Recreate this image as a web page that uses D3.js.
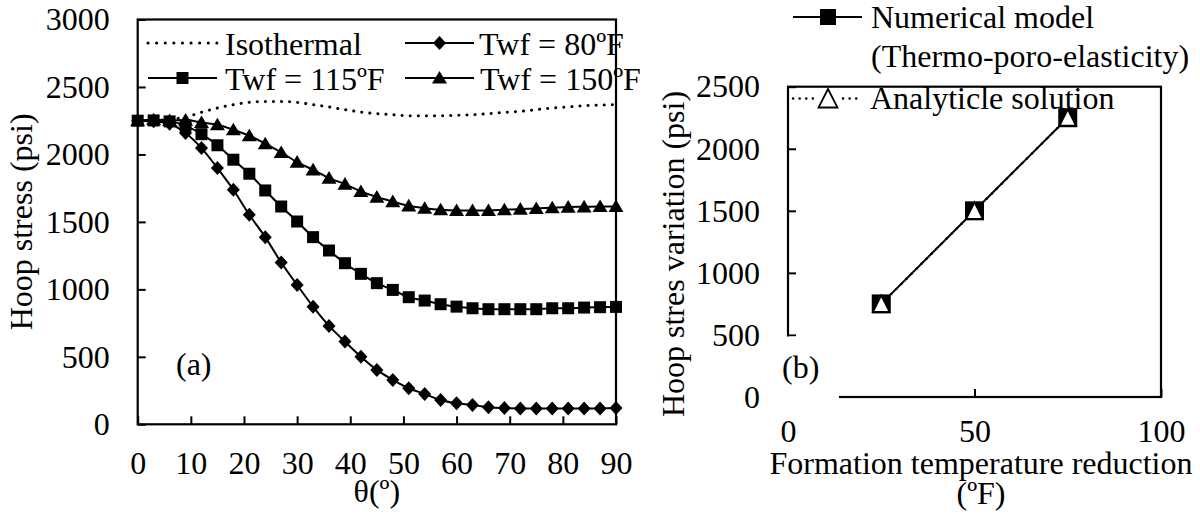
<!DOCTYPE html>
<html><head><meta charset="utf-8">
<script src="https://cdn.jsdelivr.net/npm/d3@7"></script>
<style>
body{margin:0;background:#fff;}
svg text{font-family:"Liberation Serif","Times New Roman",serif !important;font-size:32px;fill:#000;}
</style></head><body>
<svg id="chart" width="1200" height="516" font-family="Liberation Serif"></svg>
<script>
// ---------- data: panel (a) ----------
const theta = [0,3,6,9,12,15,18,21,24,27,30,33,36,39,42,45,48,51,54,57,60,63,66,69,72,75,78,81,84,87,90];
const isothermal = [2250,2252,2260,2277,2312,2344,2369,2386,2393,2393,2386,2369,2352,2332,2314,2302,2294,2287,2287,2287,2290,2294,2302,2312,2319,2332,2344,2352,2362,2366,2369];
const twf80  = [2250,2245,2228,2159,2047,1899,1738,1553,1387,1199,1033,872,729,613,501,403,329,267,225,180,156,143,126,120,118,118,118,118,118,118,120];
const twf115 = [2250,2252,2245,2213,2150,2068,1961,1857,1733,1614,1503,1387,1288,1194,1115,1046,996,942,917,890,872,860,853,853,853,853,860,860,865,868,870];
const twf150 = [2250,2257,2252,2255,2237,2220,2183,2139,2080,2015,1943,1886,1825,1780,1726,1684,1651,1619,1602,1590,1585,1585,1585,1590,1595,1600,1605,1610,1612,1614,1614];
const xTicksA = [0,10,20,30,40,50,60,70,80,90];
const yTicksA = [0,500,1000,1500,2000,2500,3000];
const legendA = ["Isothermal","Twf = 80ºF","Twf = 115ºF","Twf = 150ºF"];

// ---------- data: panel (b) ----------
const tempReduction = [25,50,75];
const numerical = [750,1500,2250];
const analytical = [750,1500,2250];
const xTicksB = [0,50,100];
const yTicksB = [0,500,1000,1500,2000,2500];
const legendB = ["Numerical model","(Thermo-poro-elasticity)","Analyticle solution"];

const FONT = '"Liberation Serif","Times New Roman",serif';
const svg = d3.select('#chart');
svg.append('rect').attr('width',1200).attr('height',516).attr('fill','#fff');

function markerPath(type, cx, cy, w, h){
  if(type==='diamond') return `M${cx},${cy-h}L${cx+w},${cy}L${cx},${cy+h}L${cx-w},${cy}Z`;
  if(type==='square') return `M${cx-w},${cy-h}H${cx+w}V${cy+h}H${cx-w}Z`;
  return `M${cx},${cy-h}L${cx+w},${cy+h*0.8}L${cx-w},${cy+h*0.8}Z`;
}
function styleAxis(g){
  g.select('.domain').remove();
  g.attr('font-size',null).attr('font-family',FONT);
  g.selectAll('.tick line').attr('stroke','#000').attr('stroke-width',2);
  g.selectAll('.tick text').attr('fill','#000').style('font-family',FONT).style('font-size','32px');
}
function txt(g){ return g.append('text').style('font-family',FONT).style('font-size','32px'); }

// ================= panel (a) =================
const A = {left:137.7, right:616, top:19.5, bottom:424.3};
const xA = d3.scaleLinear().domain([0,90]).range([A.left,A.right]);
const yA = d3.scaleLinear().domain([0,3000]).range([A.bottom,A.top]);
const gA = svg.append('g');

gA.append('g').attr('transform',`translate(0,${A.bottom})`)
  .call(d3.axisBottom(xA).tickValues(xTicksA).tickSize(-8).tickPadding(27).tickFormat(d3.format('d')))
  .call(styleAxis);
gA.append('g').attr('transform',`translate(${A.left},0)`)
  .call(d3.axisLeft(yA).tickValues(yTicksA).tickSize(-8).tickPadding(28).tickFormat(d3.format('d')))
  .call(styleAxis);
gA.append('rect').attr('x',A.left).attr('y',A.top).attr('width',A.right-A.left).attr('height',A.bottom-A.top)
  .attr('fill','none').attr('stroke','#000').attr('stroke-width',2.2);

const lineA = d3.line().x((d,i)=>xA(theta[i])).y(d=>yA(d)).curve(d3.curveMonotoneX);
gA.append('path').datum(isothermal).attr('d',lineA).attr('fill','none').attr('stroke','#000')
  .attr('stroke-width',3).attr('stroke-linecap','round').attr('stroke-dasharray','0.1,8');

const seriesA = [
  {vals:twf150, type:'triangle', w:7.5, h:7},
  {vals:twf115, type:'square', w:6, h:6},
  {vals:twf80, type:'diamond', w:6.5, h:7}
];
seriesA.forEach(s=>{
  gA.append('path').datum(s.vals).attr('d',lineA).attr('fill','none').attr('stroke','#000').attr('stroke-width',2);
  gA.append('g').selectAll('path').data(s.vals).join('path')
    .attr('d',(d,i)=>markerPath(s.type,xA(theta[i]),yA(d),s.w,s.h)).attr('fill','#000');
});

// legend (a)
const legA = gA.append('g');
const legItems = [
  {label:legendA[0], type:'dot', x0:148, x1:217, tx:225, y:43},
  {label:legendA[1], type:'diamond', x0:405, x1:474, tx:479, y:43, w:6.5, h:7},
  {label:legendA[2], type:'square', x0:148, x1:217, tx:225, y:78, w:6, h:6},
  {label:legendA[3], type:'triangle', x0:405, x1:474, tx:480, y:78, w:7.5, h:7}
];
legItems.forEach(it=>{
  const ln = legA.append('line').attr('x1',it.x0).attr('x2',it.x1).attr('y1',it.y).attr('y2',it.y).attr('stroke','#000');
  if(it.type==='dot'){ ln.attr('stroke-width',3).attr('stroke-linecap','round').attr('stroke-dasharray','0.1,8.5'); }
  else {
    ln.attr('stroke-width',2);
    legA.append('path').attr('d',markerPath(it.type,(it.x0+it.x1)/2,it.y,it.w,it.h)).attr('fill','#000');
  }
  txt(legA).attr('x',it.tx).attr('y',it.y+12).text(it.label);
});
txt(gA).attr('x',176).attr('y',375).text('(a)');
txt(gA).attr('x',(A.left+A.right)/2).attr('y',502).attr('text-anchor','middle').text('θ(º)');
txt(gA).attr('transform',`translate(32,${(A.top+A.bottom)/2}) rotate(-90)`).attr('text-anchor','middle').text('Hoop stress (psi)');

// ================= panel (b) =================
const B = {left:788, right:1161, top:86.7, bottom:397};
const xB = d3.scaleLinear().domain([0,100]).range([B.left,B.right]);
const yB = d3.scaleLinear().domain([0,2500]).range([B.bottom,B.top]);
const gB = svg.append('g');

gB.append('g').attr('transform',`translate(0,${B.bottom})`)
  .call(d3.axisBottom(xB).tickValues(xTicksB).tickSize(-8).tickPadding(22).tickFormat(d3.format('d')))
  .call(styleAxis);
gB.append('g').attr('transform',`translate(${B.left},0)`)
  .call(d3.axisLeft(yB).tickValues(yTicksB).tickSize(-8).tickPadding(28).tickFormat(d3.format('d')))
  .call(styleAxis);
gB.append('rect').attr('x',B.left).attr('y',B.top).attr('width',B.right-B.left).attr('height',B.bottom-B.top)
  .attr('fill','none').attr('stroke','#000').attr('stroke-width',2.2);

const lineB = d3.line().x((d,i)=>xB(tempReduction[i])).y(d=>yB(d));
gB.append('path').datum(analytical).attr('d',lineB).attr('fill','none').attr('stroke','#000')
  .attr('stroke-width',2.5).attr('stroke-linecap','round').attr('stroke-dasharray','0.1,7');
gB.append('path').datum(numerical).attr('d',lineB).attr('fill','none').attr('stroke','#000').attr('stroke-width',2);
gB.append('g').selectAll('path').data(numerical).join('path')
  .attr('d',(d,i)=>markerPath('square',xB(tempReduction[i]),yB(d),9.5,9.5)).attr('fill','#000');
gB.append('g').selectAll('path').data(analytical).join('path')
  .attr('d',(d,i)=>{const cx=xB(tempReduction[i]), cy=yB(d);
     return `M${cx},${cy-8.5}L${cx+8.3},${cy+8}L${cx-8.3},${cy+8}Z`;})
  .attr('fill','#fff').attr('stroke','#000').attr('stroke-width',1.8);

// label box for (b) (covers the axis corner as in the original)
gB.append('rect').attr('x',777).attr('y',336.5).attr('width',62).attr('height',70).attr('fill','#fff');
txt(gB).attr('x',782).attr('y',378).text('(b)');

// legend (b)
const legB = gB.append('g');
legB.append('line').attr('x1',793).attr('x2',862).attr('y1',17).attr('y2',17).attr('stroke','#000').attr('stroke-width',2);
legB.append('path').attr('d',markerPath('square',828,17,8,8)).attr('fill','#000');
txt(legB).attr('x',871).attr('y',28).text(legendB[0]);
txt(legB).attr('x',871).attr('y',67).text(legendB[1]);
legB.append('line').attr('x1',793).attr('x2',815).attr('y1',98.5).attr('y2',98.5).attr('stroke','#000')
  .attr('stroke-width',2.5).attr('stroke-linecap','round').attr('stroke-dasharray','0.1,6.5');
legB.append('line').attr('x1',843).attr('x2',860).attr('y1',98.5).attr('y2',98.5).attr('stroke','#000')
  .attr('stroke-width',2.5).attr('stroke-linecap','round').attr('stroke-dasharray','0.1,6.5');
legB.append('path').attr('d','M828,89L837.5,107.5L818.5,107.5Z').attr('fill','#fff').attr('stroke','#000').attr('stroke-width',1.8);
txt(legB).attr('x',870).attr('y',108.5).text(legendB[2]);

txt(gB).attr('x',981).attr('y',474).attr('text-anchor','middle').text('Formation temperature reduction');
txt(gB).attr('x',981).attr('y',504).attr('text-anchor','middle').text('(ºF)');
txt(gB).attr('transform',`translate(684,254) rotate(-90)`).attr('text-anchor','middle').text('Hoop stres variation (psi)');
</script>
</body></html>
